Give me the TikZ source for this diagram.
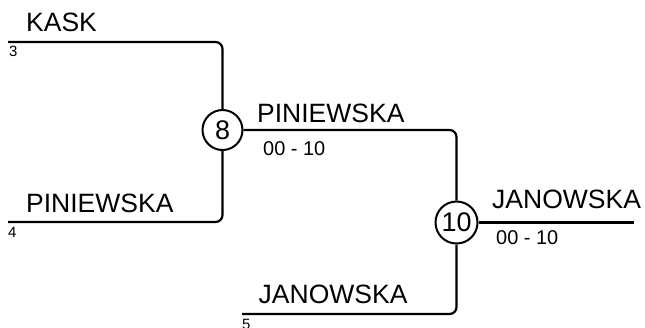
\documentclass[tikz,border=0pt]{standalone}
\usepackage{fontspec}
\setmainfont{Liberation Sans}
\begin{document}
\begin{tikzpicture}[x=1bp,y=-1bp,
  conn/.style={line width=2.2bp,rounded corners=7bp},
  junction/.style={circle,draw,line width=2bp,inner sep=0pt,font=\fontsize{27}{29}\selectfont},
  teamlbl/.style={anchor=base west,inner sep=0pt,font=\fontsize{26.6}{29}\selectfont},
  scorelbl/.style={anchor=base west,inner sep=0pt,font=\fontsize{20}{22}\selectfont},
  seedlbl/.style={anchor=base west,inner sep=0pt,font=\fontsize{15}{17}\selectfont}]
\useasboundingbox (0,0) rectangle (645,327);
\node[junction,minimum size=40bp] (c8) at (222.5,130) {8};
\node[junction,minimum size=42bp] (c10) at (456.5,222.5) {10};
\coordinate (s3) at (8,42);
\coordinate (s4) at (8,222);
\coordinate (s5) at (242,314);
\coordinate (fin) at (634,222.5);
\draw[conn] (s3) -| (c8);
\draw[conn] (s4) -| (c8);
\draw[conn] (c8) -| (c10);
\draw[conn] (s5) -| (c10);
\draw[conn] (c10) -- (fin);
\node[teamlbl] (t1) at (26,31) {KASK};
\node[seedlbl] (n3) at (9,56) {3};
\node[teamlbl] (t2) at (26,212.5) {PINIEWSKA};
\node[seedlbl] (n4) at (8,237.5) {4};
\node[teamlbl] (t3) at (257,122) {PINIEWSKA};
\node[scorelbl] (sc1) at (263,155) {00 - 10};
\node[teamlbl] (t4) at (258.5,303) {JANOWSKA};
\node[seedlbl] (n5) at (242,329) {5};
\node[teamlbl] (t5) at (492,208) {JANOWSKA};
\node[scorelbl] (sc2) at (496,244) {00 - 10};
\end{tikzpicture}
\end{document}
